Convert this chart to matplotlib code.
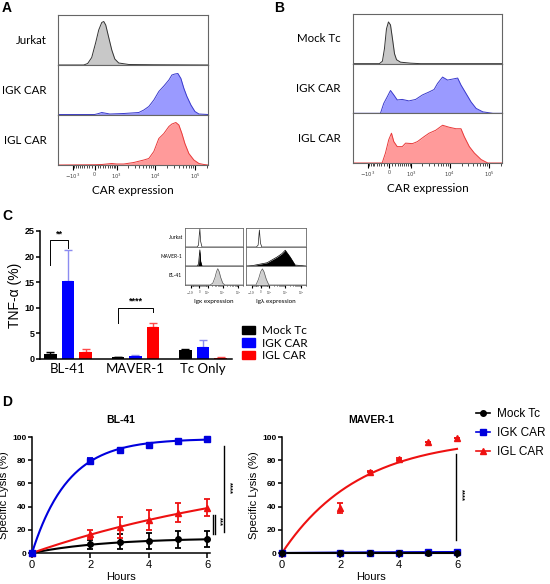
import numpy as np
import matplotlib
matplotlib.use("Agg")
import matplotlib.pyplot as plt
from matplotlib.patches import Patch
from matplotlib.lines import Line2D

plt.rcParams["font.family"] = ["Liberation Sans", "DejaVu Sans"]
LABEL_FONT = ["Lato", "DejaVu Sans"]

W, H = 550, 584

# ---------------- A: CAR expression on Jurkat (value, normalised count) ----------------
a_names = ["Jurkat", "IGK CAR", "IGL CAR"]
a_jurkat_x = [-2500, -414, -254, -106, 35, 142, 254, 332, 414, 549, 702, 876, 1141, 2140, 10000, 210000]
a_jurkat_y = [0, 0, 0.03, 0.15, 0.45, 0.7, 0.85, 0.87, 0.8, 0.55, 0.3, 0.12, 0.04, 0.01, 0.005, 0]
a_igk_x = [-2500, 0, 142, 254, 600, 1575, 3860, 5160, 6900, 9220, 12300, 16460, 21970, 26150,
           31090, 36970, 43980, 52330, 62230, 78430, 98800, 124500, 210000]
a_igk_y = [0.01, 0.01, 0.03, 0.05, 0.02, 0.03, 0.05, 0.1, 0.17, 0.3, 0.47, 0.58, 0.7, 0.8,
           0.82, 0.83, 0.73, 0.53, 0.37, 0.2, 0.07, 0.02, 0.01]
a_igl_x = [-2500, 0, 254, 702, 1000, 1575, 2870, 5160, 6900, 9220, 12300, 16460, 21970, 26150,
           32900, 39150, 46600, 55300, 69600, 93000, 124500, 166000, 210000]
a_igl_y = [0, 0.005, 0.01, 0.03, 0.02, 0.02, 0.05, 0.1, 0.13, 0.27, 0.53, 0.63, 0.77, 0.82,
           0.85, 0.8, 0.63, 0.43, 0.23, 0.1, 0.03, 0.01, 0]

# ---------------- B: CAR expression on primary T cells ----------------
b_names = ["Mock Tc", "IGK CAR", "IGL CAR"]
b_mock_x = [-2500, -378, -257, -181, -107, -36, 36, 107, 181, 257, 420, 950, 1810, 210000]
b_mock_y = [0, 0, 0.05, 0.3, 0.7, 0.84, 0.78, 0.5, 0.2, 0.08, 0.03, 0.01, 0, 0]
b_igk_x = [-2500, -335, -207, -82, 36, 155, 284, 496, 845, 1325, 2020, 3010, 4045, 4940, 6640,
           8900, 11940, 15990, 19400, 25990, 34770, 46600, 68900, 123800, 210000]
b_igk_y = [0, 0, 0.2, 0.33, 0.46, 0.37, 0.27, 0.28, 0.25, 0.28, 0.37, 0.43, 0.48, 0.6, 0.73,
           0.67, 0.69, 0.71, 0.57, 0.4, 0.23, 0.1, 0.03, 0, 0]
b_igl_x = [-2500, -268, -144, -25, 71, 155, 284, 496, 658, 1075, 1480, 2230, 3010, 4470, 6640,
           9780, 14460, 19400, 23500, 31470, 42200, 62400, 92000, 210000]
b_igl_y = [0, 0, 0.2, 0.47, 0.6, 0.43, 0.33, 0.33, 0.4, 0.39, 0.43, 0.53, 0.6, 0.66, 0.76,
           0.72, 0.69, 0.69, 0.53, 0.33, 0.2, 0.07, 0, 0]

# ---------------- C: TNF-alpha ----------------
c_targets = ["BL-41", "MAVER-1", "Tc Only"]
c_groups = ["Mock Tc", "IGK CAR", "IGL CAR"]
c_mock = [1.0, 0.3, 1.8]
c_mock_err = [0.3, 0.05, 0.1]
c_igk = [15.3, 0.6, 2.3]
c_igk_err = [6.0, 0.15, 1.4]
c_igl = [1.4, 6.2, 0.2]
c_igl_err = [0.5, 0.9, 0.1]

# inset: Ig kappa / Ig lambda surface expression on target lines
inset_names = ["Jurkat", "MAVER-1", "BL-41"]
kappa_jurkat_x = [-2500, -200, -60, 0, 61, 130, 260, 210000]
kappa_jurkat_y = [0, 0, 0.1, 0.6, 0.95, 0.3, 0, 0]
kappa_maver_x = [-2500, -200, -60, 0, 61, 130, 260, 210000]
kappa_maver_y = [0, 0, 0.1, 0.5, 0.85, 0.25, 0, 0]
kappa_bl41_x = [-2500, 1500, 2280, 3200, 4000, 4850, 6000, 7500, 10200, 14000, 210000]
kappa_bl41_y = [0, 0, 0.1, 0.4, 0.7, 0.86, 0.7, 0.4, 0.1, 0, 0]
lambda_jurkat_x = [-2500, -400, -230, -115, -20, 100, 210000]
lambda_jurkat_y = [0, 0, 0.1, 0.9, 0.2, 0, 0]
lambda_maver_x = [-2500, -915, 640, 3170, 6530, 10500, 21500, 43900, 210000]
lambda_maver_y = [0, 0.02, 0.17, 0.47, 0.65, 0.83, 0.47, 0.05, 0]
lambda_bl41_x = [-2500, -450, -200, 0, 150, 300, 550, 900, 210000]
lambda_bl41_y = [0, 0, 0.3, 0.7, 0.85, 0.7, 0.3, 0, 0]

# ---------------- D: killing assay ----------------
hours = [0, 2, 3, 4, 5, 6]
bl41_mock = [0, 7.5, 9.8, 10.3, 11.8, 12.0]
bl41_mock_err = [0, 4.0, 6.5, 7.0, 7.5, 7.0]
bl41_igk = [0, 79, 89, 93.5, 96.5, 98]
bl41_igk_err = [0, 2.5, 0.8, 0.8, 0.8, 0.8]
bl41_igl = [0, 16, 22, 28.4, 34.7, 39]
bl41_igl_err = [0, 3.5, 8.8, 8.6, 8.0, 7.5]
maver_mock = [0, 0, 0, 0, 0, 0]
maver_igk = [0, 0, 0, 0, 0.5, 1.0]
maver_igl = [0, 39, 70, 81, 95.5, 99]
maver_igl_err = [0, 4.5, 0.5, 1.0, 0, 0]
# one-phase association fits as displayed (plateau, rate per hour)
bl41_fits = {"Mock Tc": (13, 0.4), "IGK CAR": (98.5, 0.81), "IGL CAR": (80, 0.11)}
maver_fits = {"Mock Tc": (0, 1.0), "IGK CAR": (1.2, 0.2), "IGL CAR": (100, 0.38)}


fig = plt.figure(figsize=(W / 100, H / 100), dpi=100)


def add_px(x0, y0, x1, y1):
    return fig.add_axes([x0 / W, 1 - y1 / H, (x1 - x0) / W, (y1 - y0) / H])


def ftext(x, y, s, **kw):
    fig.text(x / W, 1 - y / H, s, **kw)


def fwd(v):
    return np.arcsinh(np.asarray(v, dtype=float) / 610.0)


def inv(u):
    return 610.0 * np.sinh(u)


major = [-1e3, 0, 1e3, 1e4, 1e5]
major_lab = [r"$-10^3$", "0", r"$10^3$", r"$10^4$", r"$10^5$"]
minor = (list(range(-900, 0, 100)) + list(range(100, 1000, 100)) + list(range(2000, 10000, 1000))
         + list(range(20000, 100000, 10000)) + [2e5])


def flow_stack(x0, x1, y0, y1, curves, names, label_x, xlabel, small=False):
    n = len(curves)
    h = (y1 - y0) / n
    for i, ((xs, ys, face, edge), name) in enumerate(zip(curves, names)):
        ax = add_px(x0, y0 + i * h, x1, y0 + (i + 1) * h)
        ax.set_xscale("function", functions=(fwd, inv))
        ax.fill_between(xs, ys, color=face, lw=0)
        ax.plot(xs, ys, color=edge, lw=0.5 if small else 0.7)
        ax.set_xlim(-2500, 2.1e5)
        ax.set_ylim(0, 1)
        ax.set_yticks([])
        for s in ax.spines.values():
            s.set_color("#666666")
            s.set_linewidth(0.6 if small else 0.8)
        if i < n - 1:
            ax.tick_params(axis="x", which="both", bottom=False, labelbottom=False)
        else:
            ax.set_xticks(major)
            ax.set_xticklabels(major_lab)
            ax.set_xticks(minor, minor=True)
            ax.tick_params(axis="x", which="major", length=2 if small else 3.5, width=0.8,
                           labelsize=2 if small else 3.8, pad=1.5, labelcolor="#444444")
            ax.tick_params(axis="x", which="minor", length=1 if small else 2, width=0.5)
            ax.set_xlabel(xlabel, fontsize=4.5 if small else 8.5, family=LABEL_FONT,
                          labelpad=1 if small else 3)
        if label_x is not None:
            ftext(label_x, y0 + (i + 0.5) * h, name, ha="right", va="center",
                  fontsize=3.5 if small else 8.3, family=LABEL_FONT)


GRAY = ("#c8c8c8", "#333333")
BLUE = ("#9a9aff", "#3a3acc")
RED = ("#ff9a9a", "#e83a3a")

flow_stack(58, 208, 15, 165,
           [(a_jurkat_x, a_jurkat_y) + GRAY, (a_igk_x, a_igk_y) + BLUE, (a_igl_x, a_igl_y) + RED],
           a_names, 47, "CAR expression")
flow_stack(353, 502, 14, 163,
           [(b_mock_x, b_mock_y) + GRAY, (b_igk_x, b_igk_y) + BLUE, (b_igl_x, b_igl_y) + RED],
           b_names, 341, "CAR expression")

ftext(2, 1, "A", fontsize=10, fontweight="bold", va="top")
ftext(274, 1, "B", fontsize=10, fontweight="bold", va="top")
ftext(2, 209, "C", fontsize=10, fontweight="bold", va="top")
ftext(2, 395, "D", fontsize=10, fontweight="bold", va="top")

# ---------------- C ----------------
axc = add_px(40, 231, 232, 359)
xc = np.arange(len(c_targets))
off, bw = 0.26, 0.19
bar_cols = ["black", "#0000ff", "#ff0000"]
err_cols = ["black", "#8c8cf0", "#ff4a4a"]
for j, (vals, errs) in enumerate([(c_mock, c_mock_err), (c_igk, c_igk_err), (c_igl, c_igl_err)]):
    pos = xc + (j - 1) * off
    axc.bar(pos, vals, width=bw, color=bar_cols[j], zorder=2)
    axc.errorbar(pos, vals, yerr=[np.zeros(len(vals)), errs], fmt="none", ecolor=err_cols[j],
                 elinewidth=1.0, capsize=3, capthick=1.0, zorder=1)
axc.set_xlim(-0.415, 2.43)
axc.set_ylim(0, 25)
axc.set_yticks([0, 5, 10, 15, 20, 25])
axc.set_xticks(xc)
axc.set_xticklabels(c_targets, family=LABEL_FONT, fontsize=9.5)
axc.tick_params(axis="x", length=0, pad=3)
axc.tick_params(axis="y", length=3, width=1.1, labelsize=6.5, pad=1)
for lab in axc.get_yticklabels():
    lab.set_fontweight("bold")
for s in ["top", "right"]:
    axc.spines[s].set_visible(False)
for s in ["left", "bottom"]:
    axc.spines[s].set_linewidth(1.1)
axc.set_ylabel("TNF-α (%)", fontsize=10, labelpad=2)

# significance brackets
axc.plot([-off, -off, 0, 0], [18.4, 23.2, 23.2, 21.7], color="black", lw=0.7)
axc.text(-off / 2, 23.6, "**", ha="center", va="bottom", fontsize=6.5, fontweight="bold")
axc.plot([1 - off, 1 - off, 1 + off, 1 + off], [7.0, 10.0, 10.0, 9.2], color="black", lw=0.7)
axc.text(1, 10.4, "****", ha="center", va="bottom", fontsize=6.5, fontweight="bold")

fig.legend(handles=[Patch(color=c) for c in bar_cols], labels=c_groups,
           loc="upper left", bbox_to_anchor=(236 / W, 1 - 319 / H), frameon=False,
           handlelength=1.1, handleheight=0.7, handletextpad=0.6, labelspacing=0.15,
           borderpad=0, prop={"family": LABEL_FONT, "size": 8.5})

# inset
inset_curves_k = [(kappa_jurkat_x, kappa_jurkat_y, "white", "#222222"),
                  (kappa_maver_x, kappa_maver_y, "black", "black"),
                  (kappa_bl41_x, kappa_bl41_y, "#d0d0d0", "#555555")]
inset_curves_l = [(lambda_jurkat_x, lambda_jurkat_y, "white", "#222222"),
                  (lambda_maver_x, lambda_maver_y, "black", "black"),
                  (lambda_bl41_x, lambda_bl41_y, "#d0d0d0", "#555555")]
flow_stack(185, 243, 228, 285, inset_curves_k, inset_names, 182, "Igκ expression", small=True)
flow_stack(246, 306, 228, 285, inset_curves_l, inset_names, None, "Igλ expression", small=True)

# ---------------- D ----------------
t_fit = np.linspace(0, 6, 200)
series_style = {"Mock Tc": ("black", "o"), "IGK CAR": ("#0000dd", "s"), "IGL CAR": ("#ee1111", "^")}


def lysis_axes(x0, title):
    ax = add_px(x0, 437, x0 + 6.1 * 29.17, 553)
    ax.set_xlim(0, 6.1)
    ax.set_ylim(0, 100)
    ax.set_xticks([0, 2, 4, 6])
    ax.set_yticks([0, 20, 40, 60, 80, 100])
    ax.tick_params(axis="x", length=3.5, width=1.1, labelsize=8, pad=1.5)
    ax.tick_params(axis="y", length=3, width=1.1, labelsize=6, pad=1)
    for lab in ax.get_yticklabels():
        lab.set_fontweight("bold")
    for s in ["top", "right"]:
        ax.spines[s].set_visible(False)
    for s in ["left", "bottom"]:
        ax.spines[s].set_linewidth(1.1)
    ax.set_xlabel("Hours", fontsize=8, labelpad=1.5)
    ax.set_ylabel("Specific Lysis (%)", fontsize=8, labelpad=2)
    ax.set_title(title, fontsize=7.5, fontweight="bold", pad=10)
    return ax


def draw_series(ax, name, vals, errs, fit):
    col, mk = series_style[name]
    plat, k = fit
    ax.plot(t_fit, plat * (1 - np.exp(-k * t_fit)), color=col, lw=1.5, clip_on=False, zorder=3)
    ax.errorbar(hours, vals, yerr=errs, fmt=mk, color=col, ms=4, elinewidth=1.3, capsize=2.5,
                capthick=1.3, clip_on=False, zorder=4)


ax1 = lysis_axes(32, "BL-41")
draw_series(ax1, "Mock Tc", bl41_mock, bl41_mock_err, bl41_fits["Mock Tc"])
draw_series(ax1, "IGL CAR", bl41_igl, bl41_igl_err, bl41_fits["IGL CAR"])
draw_series(ax1, "IGK CAR", bl41_igk, bl41_igk_err, bl41_fits["IGK CAR"])
ax1.plot([6.58, 6.58], [18, 92], color="black", lw=1.0, clip_on=False)
ax1.text(6.76, 56, "****", rotation=-90, ha="center", va="center", fontsize=5.5, fontweight="bold")
ax1.plot([6.2, 6.2], [16, 33], color="black", lw=1.0, clip_on=False)
ax1.plot([6.27, 6.27], [16, 33], color="black", lw=1.0, clip_on=False)
ax1.text(6.43, 27, "***", rotation=-90, ha="center", va="center", fontsize=5.5, fontweight="bold")

ax2 = lysis_axes(282, "MAVER-1")
draw_series(ax2, "IGL CAR", maver_igl, maver_igl_err, maver_fits["IGL CAR"])
draw_series(ax2, "IGK CAR", maver_igk, None, maver_fits["IGK CAR"])
draw_series(ax2, "Mock Tc", maver_mock, None, maver_fits["Mock Tc"])
ax2.plot([5.97, 5.97], [11, 85], color="black", lw=1.0, clip_on=False)
ax2.text(6.15, 50, "****", rotation=-90, ha="center", va="center", fontsize=5.5, fontweight="bold")

handles = [Line2D([], [], color=series_style[n][0], marker=series_style[n][1], ms=4, lw=1.2)
           for n in c_groups]
fig.legend(handles=handles, labels=c_groups, loc="upper left",
           bbox_to_anchor=(470 / W, 1 - 402 / H), frameon=False, handlelength=1.2,
           handletextpad=0.6, labelspacing=0.6, borderpad=0, fontsize=8.5)

fig.savefig("out.png", dpi=100)
